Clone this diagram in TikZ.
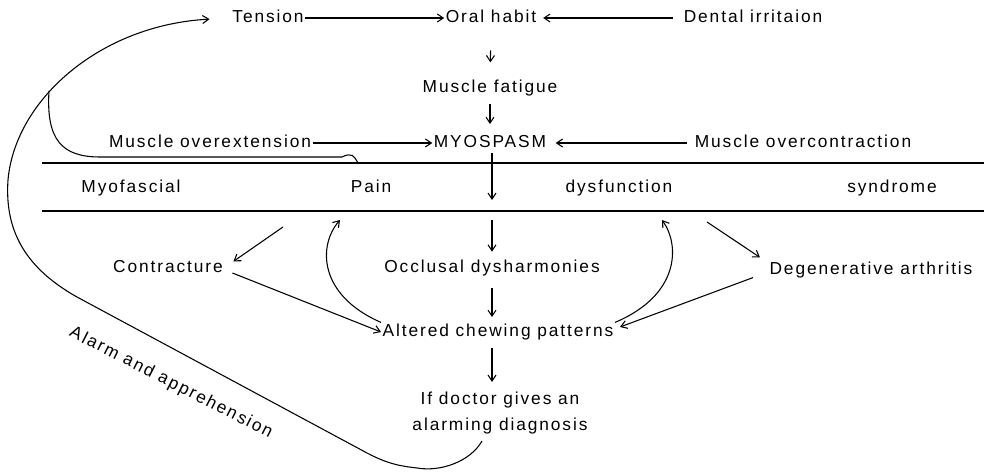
\documentclass[tikz,border=0pt]{standalone}
\usepackage{fontspec}
\setmainfont{Liberation Sans}[LetterSpace=11]
\usetikzlibrary{arrows.meta}
\tikzset{
  lbl/.style={inner sep=1pt, text height=9.5pt, text depth=2.5pt},
  arr/.style={-{Straight Barb[length=4.5pt,width=6pt]}, line width=0.8pt},
}
\begin{document}
\begin{tikzpicture}[x=0.75pt,y=-0.75pt,font=\fontsize{13pt}{15pt}\selectfont]
  \useasboundingbox (0,0) rectangle (984,473);
  % upper chain
  \node[lbl] (tension) at (268,18) {Tension};
  \node[lbl] (oral) at (491,18) {Oral habit};
  \node[lbl] (dental) at (753,18) {Dental irritaion};
  \node[lbl] (fatigue) at (490,88) {Muscle fatigue};
  \node[lbl] (overext) at (210,143) {Muscle overextension};
  \node[lbl] (myo) at (490,143) {MYOSPASM};
  \node[lbl] (overcon) at (803,143) {Muscle overcontraction};
  % the band
  \draw[line width=1.1pt] (42,163) -- (984,163);
  \draw[line width=1.1pt] (42,211) -- (984,211);
  \node[lbl] (myof) at (131,188) {Myofascial};
  \node[lbl] (pain) at (371,188) {Pain};
  \node[lbl] (dysf) at (619,188) {dysfunction};
  \node[lbl] (synd) at (892,188) {syndrome};
  % lower part
  \node[lbl] (contr) at (168,268) {Contracture};
  \node[lbl] (occl) at (492,268) {Occlusal dysharmonies};
  \node[lbl] (degen) at (871,270) {Degenerative arthritis};
  \node[lbl] (alter) at (498,332) {Altered chewing patterns};
  \node[inner sep=1pt, align=center, font=\fontsize{13pt}{20pt}\selectfont] (doctor) at (500,413) {If doctor gives an\\alarming diagnosis};
  \node[rotate=-27] (alarm) at (171,383) {Alarm and apprehension};
  \coordinate (m1) at (492,200);
  \coordinate (m2) at (492,220);
  \coordinate (cA) at (283,227);
  \coordinate (pA) at (340,220);
  \coordinate (pB) at (662,220);
  \coordinate (dA) at (707,222);
  \coordinate (br) at (49,91);
  % arrows
  \draw[arr] (tension) -- (oral);
  \draw[arr, shorten <=7pt, shorten >=4pt] (dental) -- (oral);
  \draw[arr, shorten <=17pt, shorten >=12pt] (oral) -- (fatigue);
  \draw[arr, shorten <=4.5pt, shorten >=7pt] (fatigue) -- (myo);
  \draw[arr] (overext) -- (myo);
  \draw[arr, shorten <=5pt, shorten >=6pt] (overcon) -- (myo);
  \draw[arr] (myo.south -| m1) -- (m1);
  \draw[arr, shorten >=5pt] (m2) -- (occl.north -| m2);
  \draw[arr, shorten <=7.5pt, shorten >=4pt] (occl.south -| m2) -- (alter.north -| m2);
  \draw[arr, shorten <=5pt, shorten >=6pt] (alter.south -| m2) -- (doctor.north -| m2);
  \draw[arr] (cA) -- ([shift={(9,3)}]contr.north east);
  \draw[arr] ([shift={(8,5)}]contr.east) -- (alter.west);
  \draw[arr] (alter.north west) .. controls (318,295) and (318,245) .. (pA);
  \draw[arr] (alter.north east) .. controls (680,295) and (680,245) .. (pB);
  \draw[arr] (dA) -- ([shift={(-8,-3)}]degen.north west);
  \draw[arr] ([shift={(-15,-2)}]degen.south west) -- ([shift={(5,-5)}]alter.east);
  % feedback loop
  \draw[arr, shorten >=16pt] ([shift={(-18,5)}]doctor.south) .. controls (470,462) and (440,472) .. (417,468)
    .. controls (400,466) and (388,464) .. (367,453) -- (77,297)
    .. controls (20,265) and (5,225) .. (8,180) .. controls (15,100) and (100,25) .. (tension.west);
  \draw[line width=0.8pt] (br) .. controls (46,140) and (62,157) .. (100,157) -- (342,157)
    .. controls (352,152) and (354,156) .. (358,163);
\end{tikzpicture}
\end{document}
